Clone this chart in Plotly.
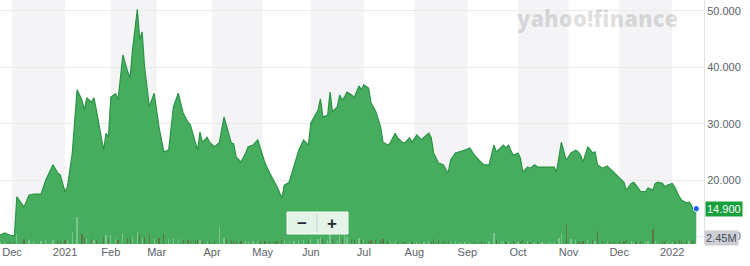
import plotly.graph_objects as go

# ---------------- data ----------------
dates = [
    # Nov 2020
    "2020-11-23", "2020-11-25", "2020-11-30",
    # Dec 2020
    "2020-12-02", "2020-12-03", "2020-12-08", "2020-12-10", "2020-12-14", "2020-12-17",
    "2020-12-21", "2020-12-24", "2020-12-29", "2020-12-30",
    # Jan 2021
    "2021-01-04", "2021-01-05", "2021-01-07", "2021-01-11", "2021-01-13", "2021-01-14",
    "2021-01-15", "2021-01-20", "2021-01-21", "2021-01-22", "2021-01-27", "2021-01-28", "2021-01-29",
    # Feb 2021
    "2021-02-01", "2021-02-03", "2021-02-04", "2021-02-08", "2021-02-10", "2021-02-11",
    "2021-02-12", "2021-02-17", "2021-02-18", "2021-02-19", "2021-02-22", "2021-02-24", "2021-02-26",
    # Mar 2021
    "2021-03-02", "2021-03-04", "2021-03-08", "2021-03-10", "2021-03-12", "2021-03-16", "2021-03-18",
    "2021-03-19", "2021-03-23", "2021-03-24", "2021-03-25", "2021-03-26", "2021-03-30", "2021-03-31",
    # Apr 2021
    "2021-04-05", "2021-04-07", "2021-04-09", "2021-04-12", "2021-04-14", "2021-04-15", "2021-04-16",
    "2021-04-20", "2021-04-22", "2021-04-23", "2021-04-27", "2021-04-29", "2021-04-30",
    # May 2021
    "2021-05-04", "2021-05-06", "2021-05-10", "2021-05-11", "2021-05-13", "2021-05-14",
    "2021-05-18", "2021-05-20", "2021-05-24", "2021-05-26", "2021-05-28",
    # Jun 2021
    "2021-06-01", "2021-06-04", "2021-06-07", "2021-06-08", "2021-06-10", "2021-06-11", "2021-06-14",
    "2021-06-16", "2021-06-17", "2021-06-18", "2021-06-21", "2021-06-22", "2021-06-24", "2021-06-25",
    "2021-06-29", "2021-06-30",
    # Jul 2021
    "2021-07-01", "2021-07-06", "2021-07-07", "2021-07-09", "2021-07-13", "2021-07-14", "2021-07-16",
    "2021-07-19", "2021-07-21", "2021-07-22", "2021-07-26", "2021-07-27", "2021-07-29", "2021-07-30",
    # Aug 2021
    "2021-08-03", "2021-08-05", "2021-08-06", "2021-08-10", "2021-08-11", "2021-08-12", "2021-08-16",
    "2021-08-18", "2021-08-20", "2021-08-23", "2021-08-25", "2021-08-27", "2021-08-31",
    # Sep 2021
    "2021-09-02", "2021-09-07", "2021-09-10", "2021-09-13", "2021-09-15", "2021-09-17", "2021-09-20",
    "2021-09-22", "2021-09-23", "2021-09-24", "2021-09-27", "2021-09-29",
    # Oct 2021
    "2021-10-01", "2021-10-04", "2021-10-05", "2021-10-07", "2021-10-08", "2021-10-12", "2021-10-13",
    "2021-10-15", "2021-10-20", "2021-10-22", "2021-10-25", "2021-10-26", "2021-10-27", "2021-10-29",
    # Nov 2021
    "2021-11-02", "2021-11-04", "2021-11-05", "2021-11-08", "2021-11-09", "2021-11-11", "2021-11-15",
    "2021-11-16", "2021-11-17", "2021-11-19", "2021-11-23", "2021-11-24", "2021-11-29",
    # Dec 2021
    "2021-12-01", "2021-12-03", "2021-12-06", "2021-12-08", "2021-12-09", "2021-12-10", "2021-12-14",
    "2021-12-16", "2021-12-17", "2021-12-21", "2021-12-22", "2021-12-23", "2021-12-28", "2021-12-29",
    "2021-12-30",
    # Jan 2022
    "2022-01-03", "2022-01-04", "2022-01-06", "2022-01-07", "2022-01-11", "2022-01-12", "2022-01-13",
    "2022-01-14", "2022-01-18",
]

prices = [
    10.2, 10.6, 10.2,
    10.1, 17.0, 15.2, 17.3, 17.5, 17.5, 20.0, 22.7, 21.2, 20.9,
    17.9, 18.8, 24.8, 36.0, 34.2, 32.4, 34.6, 33.8, 34.6, 32.4, 25.3, 28.3, 27.6,
    34.7, 35.3, 34.2, 42.2, 39.2, 38.1, 43.1, 50.3, 44.9, 46.3, 40.1, 33.0, 35.4,
    29.4, 25.0, 25.3, 33.0, 35.4, 31.9, 30.3, 29.8, 26.6, 25.3, 28.5, 26.7, 27.6, 26.7,
    25.9, 26.6, 31.2, 29.8, 26.6, 26.4, 24.1, 23.2, 24.8, 25.9, 26.2, 27.1, 25.7,
    23.0, 21.2, 19.6, 18.8, 16.8, 19.1, 19.6, 22.3, 25.3, 27.1, 26.2,
    30.1, 32.4, 34.4, 31.2, 31.5, 35.6, 32.1, 33.0, 35.1, 34.2, 34.7, 35.6, 35.1, 34.6, 36.7, 36.0,
    36.9, 36.3, 33.7, 32.1, 29.4, 26.7, 26.2, 26.6, 28.3, 27.5, 26.7, 26.6, 27.5, 26.7,
    28.0, 27.1, 27.6, 28.3, 27.5, 24.8, 23.0, 22.7, 21.2, 23.5, 24.8, 25.0, 25.3,
    25.7, 24.4, 23.0, 22.7, 22.7, 26.2, 25.0, 25.9, 26.2, 25.7, 26.2, 24.4,
    24.8, 23.9, 21.4, 22.3, 22.1, 22.7, 22.3, 22.3, 22.3, 22.3, 21.4, 24.1, 26.7, 23.5,
    24.8, 25.3, 25.0, 24.4, 23.2, 25.9, 24.8, 25.0, 22.7, 22.1, 22.5, 22.1, 21.2,
    20.4, 19.6, 18.2, 19.4, 19.6, 19.1, 17.9, 18.0, 18.6, 18.2, 19.4, 19.6, 19.4, 18.8, 19.1,
    19.4, 18.8, 17.0, 16.4, 15.9, 16.1, 15.5, 14.3, 14.9,
]

volumes_m = [
    1.0, 0.8, 0.9,
    0.9, 4.0, 2.0, 1.5, 1.2, 1.2, 1.8, 1.6, 1.4, 1.2,
    1.5, 1.6, 5.0, 11.0, 4.0, 3.0, 2.5, 2.0, 1.8, 1.8, 3.0, 3.5, 2.0,
    3.5, 2.0, 1.8, 4.5, 2.5, 2.2, 3.0, 5.0, 3.5, 2.5, 3.0, 4.0, 2.5,
    2.5, 4.0, 2.0, 2.5, 2.2, 1.8, 1.5, 1.4, 1.6, 1.5, 1.6, 1.3, 1.2, 1.2,
    1.2, 7.0, 2.5, 2.0, 1.6, 1.2, 1.4, 1.3, 1.1, 1.0, 1.1, 1.2, 1.0,
    1.3, 1.2, 1.3, 1.2, 1.6, 1.4, 1.1, 1.3, 1.5, 1.6, 1.2,
    2.5, 2.0, 3.0, 2.2, 1.8, 4.5, 2.0, 1.8, 3.5, 2.0, 4.5, 3.0, 2.0, 1.6, 2.5, 1.5,
    1.5, 1.4, 1.8, 1.5, 1.8, 2.0, 1.3, 1.2, 1.3, 1.0, 1.0, 0.9, 1.0, 0.9,
    1.0, 0.9, 0.9, 1.1, 1.0, 2.0, 1.5, 1.2, 1.4, 1.3, 1.1, 0.9, 1.0,
    0.9, 1.0, 1.1, 1.0, 1.2, 4.5, 1.6, 1.2, 1.1, 1.0, 1.1, 1.2,
    1.0, 1.2, 1.8, 1.2, 1.0, 1.0, 0.9, 0.9, 0.9, 0.9, 1.0, 2.5, 4.0, 8.0,
    2.0, 1.5, 1.2, 1.0, 1.2, 1.8, 1.5, 1.2, 5.5, 1.3, 1.0, 0.9, 1.1,
    1.2, 1.3, 1.5, 1.2, 1.0, 1.0, 1.4, 1.2, 1.2, 6.0, 1.2, 1.0, 0.9, 1.0, 0.9,
    1.0, 1.1, 1.6, 1.4, 1.3, 1.1, 1.2, 1.8, 2.45,
]

month_ticks = ["2020-12-01", "2021-01-04", "2021-02-01", "2021-03-01", "2021-04-01",
               "2021-05-03", "2021-06-01", "2021-07-01", "2021-08-02", "2021-09-01",
               "2021-10-01", "2021-11-01", "2021-12-01", "2022-01-03"]
month_labels = ["Dec", "2021", "Feb", "Mar", "Apr", "May", "Jun", "Jul", "Aug", "Sep",
                "Oct", "Nov", "Dec", "2022"]
band_end = "2022-01-21 05:00"

price_ticks = [10, 20, 30, 40, 50]
price_tick_labels = ["10.000", "20.000", "30.000", "40.000", "50.000"]
last_volume_label = "2.45M"

holidays = ["2020-11-26", "2020-12-25", "2021-01-01", "2021-01-18", "2021-02-15",
            "2021-04-02", "2021-05-31", "2021-07-05", "2021-09-06", "2021-11-25",
            "2021-12-24", "2022-01-17"]

# ---------------- figure ----------------
FONT = "Liberation Sans, Arial, sans-serif"
TXT = "#5b636a"

vol_colors = []
for i, p in enumerate(prices):
    up = i == 0 or p >= prices[i - 1]
    vol_colors.append("rgba(255,255,255,0.28)" if up else "rgba(120,40,30,0.4)")

fig = go.Figure()
fig.add_trace(go.Scatter(
    x=dates, y=prices, mode="lines", fill="tozeroy",
    line=dict(color="#2b9346", width=1.2), fillcolor="#47ad5e",
    hoverinfo="skip", showlegend=False,
))
fig.add_trace(go.Bar(
    x=dates, y=[v * 1e6 for v in volumes_m], yaxis="y2",
    marker=dict(color=vol_colors, line=dict(width=0)),
    width=86400000 * 0.5, hoverinfo="skip", showlegend=False,
))
fig.add_trace(go.Scatter(
    x=[dates[-1]], y=[prices[-1]], mode="markers",
    marker=dict(color="#1f5bff", size=6, line=dict(color="rgba(255,255,255,0.8)", width=1)),
    hoverinfo="skip", showlegend=False,
))

shapes = []
for i in range(0, len(month_ticks), 2):
    x1 = month_ticks[i + 1] if i + 1 < len(month_ticks) else band_end
    shapes.append(dict(type="rect", xref="x", yref="paper", x0=month_ticks[i], x1=x1,
                       y0=0, y1=1, fillcolor="#f4f4f6", line=dict(width=0), layer="below"))

# zoom control box (UI chrome)
shapes.append(dict(type="rect", xref="paper", yref="paper", x0=0.4077, x1=0.4943,
                   y0=0.041, y1=0.131, fillcolor="rgba(255,255,255,0.85)",
                   line=dict(color="rgba(255,255,255,0.95)", width=1), layer="above"))
shapes.append(dict(type="line", xref="paper", yref="paper", x0=0.4503, x1=0.4503,
                   y0=0.05, y1=0.122, line=dict(color="rgba(200,210,205,0.9)", width=1),
                   layer="above"))

annotations = [
    dict(text="yahoo!finance", xref="paper", yref="paper", x=0.848, y=0.925,
         xanchor="center", yanchor="middle", showarrow=False,
         font=dict(family="Open Sans, DejaVu Sans, sans-serif", size=22, weight=800,
                   color="rgba(0,0,0,0.13)")),
    dict(text="<b>−</b>", xref="paper", yref="paper", x=0.429, y=0.086,
         xanchor="center", yanchor="middle", showarrow=False,
         font=dict(family=FONT, size=17, color="#232a31")),
    dict(text="<b>+</b>", xref="paper", yref="paper", x=0.4716, y=0.086,
         xanchor="center", yanchor="middle", showarrow=False,
         font=dict(family=FONT, size=17, color="#232a31")),
    dict(text=f"{prices[-1]:.3f}", xref="paper", yref="y", x=1, y=prices[-1],
         xanchor="left", yanchor="middle", xshift=1, showarrow=False,
         bgcolor="#17a03c", borderpad=1,
         font=dict(family=FONT, size=11, color="white")),
    dict(text=last_volume_label, xref="paper", yref="y2", x=1, y=volumes_m[-1] * 1e6,
         xanchor="left", yanchor="middle", showarrow=False,
         bgcolor="#cdced6", borderpad=1,
         font=dict(family=FONT, size=11, color="#464e56")),
]

fig.update_layout(
    width=750, height=266,
    margin=dict(l=0, r=46, t=0, b=22),
    paper_bgcolor="white", plot_bgcolor="white",
    font=dict(family=FONT, size=11, color=TXT),
    showlegend=False, bargap=0,
    xaxis=dict(
        type="date", range=[dates[0], band_end],
        rangebreaks=[dict(bounds=["sat", "mon"]), dict(values=holidays)],
        tickmode="array", tickvals=month_ticks, ticktext=month_labels,
        showgrid=False, zeroline=False, showline=False, ticks="",
        tickfont=dict(family=FONT, size=11, color=TXT),
    ),
    yaxis=dict(
        side="right", range=[8.64, 51.95],
        tickmode="array", tickvals=price_ticks, ticktext=price_tick_labels,
        showgrid=True, gridcolor="#ebebeb", gridwidth=1, zeroline=False,
        showline=True, linecolor="#e2e2e2", linewidth=1, ticks="",
        tickfont=dict(family=FONT, size=11, color=TXT),
    ),
    yaxis2=dict(overlaying="y", range=[0, 100e6], visible=False),
    shapes=shapes, annotations=annotations,
)

fig.write_html("out.html")
